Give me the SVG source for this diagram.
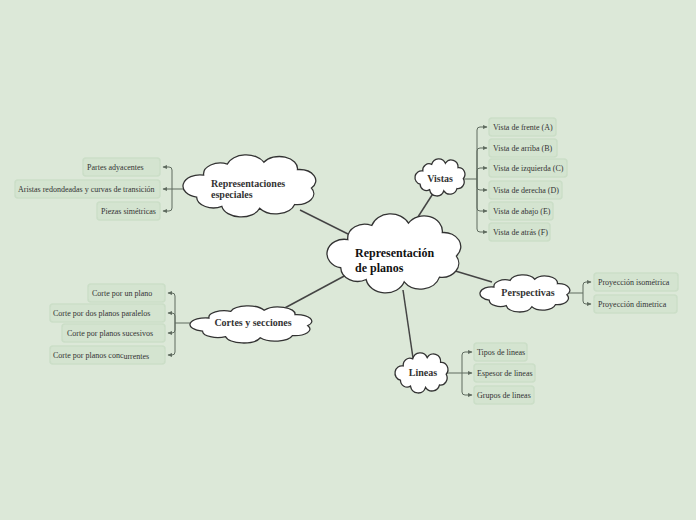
<svg xmlns="http://www.w3.org/2000/svg" width="696" height="520" viewBox="0 0 696 520">
<style>
.bg{fill:#dce8d8}
.cl{fill:#ffffff;stroke:#333333;stroke-width:1.3;vector-effect:non-scaling-stroke}
.main{stroke:#444444;stroke-width:1.5;fill:none}
.br{stroke:#5f6b5f;stroke-width:1;fill:none}
.ar{stroke:#5f6b5f;stroke-width:1;fill:none;marker-end:url(#arr)}
.box{fill:#d4e4d0;stroke:#cbdec7;stroke-width:1.5}
.t{font-family:"Liberation Serif","Times New Roman",serif;font-size:8px;fill:#333333}
.ct{font-family:"Liberation Serif","Times New Roman",serif;font-size:10px;font-weight:bold;fill:#333333}
.big{font-family:"Liberation Serif","Times New Roman",serif;font-size:12px;font-weight:bold;fill:#111111}
</style>
<defs>
<marker id="arr" markerWidth="5" markerHeight="5" refX="4" refY="2.5" orient="auto" markerUnits="userSpaceOnUse"><path d="M0,0.5 L4.5,2.5 L0,4.5 z" fill="#5f6b5f"/></marker>
<path id="cloud" class="cl" d="M15,20 A12,12 0 0 1 32,8 A14,14 0 0 1 58,6 A13,13 0 0 1 82,14 A12,12 0 0 1 92,34 A12,12 0 0 1 80,52 A14,14 0 0 1 55,56 A14,14 0 0 1 28,54 A12,12 0 0 1 10,44 A12,12 0 0 1 15,20 Z"/>
</defs>
<rect class="bg" x="0" y="0" width="696" height="520"/>
<g id="connectors">
<path class="main" d="M300,210 L348,234"/>
<path class="main" d="M434,192 L416,220"/>
<path class="main" d="M452,270 L492,282"/>
<path class="main" d="M403,290 L413,358"/>
<path class="main" d="M348,274 L281,310"/>
<path class="br" d="M462,179 H477"/>
<path class="ar" d="M477,179 V130 Q477,127 480,127 H487"/>
<path class="ar" d="M477,179 V151 Q477,148 480,148 H487"/>
<path class="ar" d="M477,179 V171 Q477,168 480,168 H487"/>
<path class="ar" d="M477,179 V187 Q477,190 480,190 H487"/>
<path class="ar" d="M477,179 V208 Q477,211 480,211 H487"/>
<path class="ar" d="M477,179 V229 Q477,232 480,232 H487"/>
<path class="br" d="M186,189 H172"/>
<path class="ar" d="M172,189 V170 Q172,167 169,167 H163"/>
<path class="ar" d="M172,189 H163"/>
<path class="ar" d="M172,189 V208 Q172,211 169,211 H163"/>
<path class="br" d="M193,323 H175"/>
<path class="ar" d="M175,323 V296 Q175,293 172,293 H168"/>
<path class="ar" d="M175,323 V316 Q175,313 172,313 H168"/>
<path class="ar" d="M175,323 V330 Q175,333 172,333 H168"/>
<path class="ar" d="M175,323 V352 Q175,355 172,355 H168"/>
<path class="br" d="M567,293 H583"/>
<path class="ar" d="M583,293 V285 Q583,282 586,282 H591"/>
<path class="ar" d="M583,293 V301 Q583,304 586,304 H591"/>
<path class="br" d="M446,373 H462"/>
<path class="ar" d="M462,373 V355 Q462,352 465,352 H472"/>
<path class="ar" d="M462,373 H472"/>
<path class="ar" d="M462,373 V392 Q462,395 465,395 H472"/>
</g>
<g id="central">
<use href="#cloud" transform="translate(327,214) scale(1.4105,1.1738) translate(-0.25,1.8)"/>
<text class="big" x="355" y="257">Representación</text>
<text class="big" x="355" y="272">de planos</text>
</g>
<g id="vistas">
<use href="#cloud" transform="translate(415,159) scale(0.5263,0.5498) translate(-0.25,1.8)"/>
<text class="ct" x="440" y="182" text-anchor="middle">Vistas</text>
</g>
<g id="rep-especiales">
<use href="#cloud" transform="translate(183,155) scale(1.4,0.9212) translate(-0.25,1.8)"/>
<text class="ct" x="211" y="187">Representaciones</text>
<text class="ct" x="211" y="198">especiales</text>
</g>
<g id="cortes">
<use href="#cloud" transform="translate(190,306) scale(1.2842,0.5498) translate(-0.25,1.8)"/>
<text class="ct" x="253" y="326" text-anchor="middle">Cortes y secciones</text>
</g>
<g id="perspectivas">
<use href="#cloud" transform="translate(480,275) scale(0.9474,0.5498) translate(-0.25,1.8)"/>
<text class="ct" x="528" y="296" text-anchor="middle">Perspectivas</text>
</g>
<g id="lineas">
<use href="#cloud" transform="translate(395,353) scale(0.5579,0.5944) translate(-0.25,1.8)"/>
<text class="ct" x="423" y="376" text-anchor="middle">Lineas</text>
</g>
<g id="vista-a"><rect class="box" x="489" y="118" width="67" height="18" rx="3"/><text class="t" x="493" y="130">Vista de frente (A)</text></g>
<g id="vista-b"><rect class="box" x="489" y="139" width="68" height="18" rx="3"/><text class="t" x="493" y="151">Vista de arriba (B)</text></g>
<g id="vista-c"><rect class="box" x="489" y="159" width="78" height="18" rx="3"/><text class="t" x="493" y="171">Vista de izquierda (C)</text></g>
<g id="vista-d"><rect class="box" x="489" y="181" width="73" height="18" rx="3"/><text class="t" x="493" y="193">Vista de derecha (D)</text></g>
<g id="vista-e"><rect class="box" x="489" y="202" width="64" height="18" rx="3"/><text class="t" x="493" y="214">Vista de abajo (E)</text></g>
<g id="vista-f"><rect class="box" x="489" y="223" width="61" height="18" rx="3"/><text class="t" x="493" y="235">Vista de atrás (F)</text></g>
<g id="partes"><rect class="box" x="83" y="158" width="77" height="18" rx="3"/><text class="t" x="87" y="170">Partes adyacentes</text></g>
<g id="aristas"><rect class="box" x="15" y="180" width="145" height="18" rx="3"/><text class="t" x="18" y="192">Aristas redondeadas y curvas de transición</text></g>
<g id="piezas"><rect class="box" x="97" y="202" width="63" height="18" rx="3"/><text class="t" x="101" y="214">Piezas simétricas</text></g>
<g id="corte-1"><rect class="box" x="88" y="284" width="77" height="18" rx="3"/><text class="t" x="92" y="296">Corte por un plano</text></g>
<g id="corte-2"><rect class="box" x="50" y="304" width="115" height="18" rx="3"/><text class="t" x="53" y="316">Corte por dos planos paralelos</text></g>
<g id="corte-3"><rect class="box" x="62" y="324" width="103" height="18" rx="3"/><text class="t" x="67" y="336">Corte por planos sucesivos</text></g>
<g id="corte-4"><rect class="box" x="50" y="346" width="115" height="18" rx="3"/><text class="t" x="53" y="358">Corte por planos conc<tspan dy="1">urrentes</tspan></text></g>
<g id="proy-iso"><rect class="box" x="594" y="273" width="84" height="18" rx="3"/><text class="t" x="598" y="285">Proyección isométrica</text></g>
<g id="proy-dim"><rect class="box" x="594" y="295" width="83" height="18" rx="3"/><text class="t" x="598" y="307">Proyección dimetrica</text></g>
<g id="tipos"><rect class="box" x="474" y="343" width="53" height="18" rx="3"/><text class="t" x="477" y="355">Tipos de lineas</text></g>
<g id="espesor"><rect class="box" x="474" y="364" width="61" height="18" rx="3"/><text class="t" x="477" y="376">Espesor de lineas</text></g>
<g id="grupos"><rect class="box" x="474" y="386" width="60" height="18" rx="3"/><text class="t" x="477" y="398">Grupos de lineas</text></g>
</svg>
